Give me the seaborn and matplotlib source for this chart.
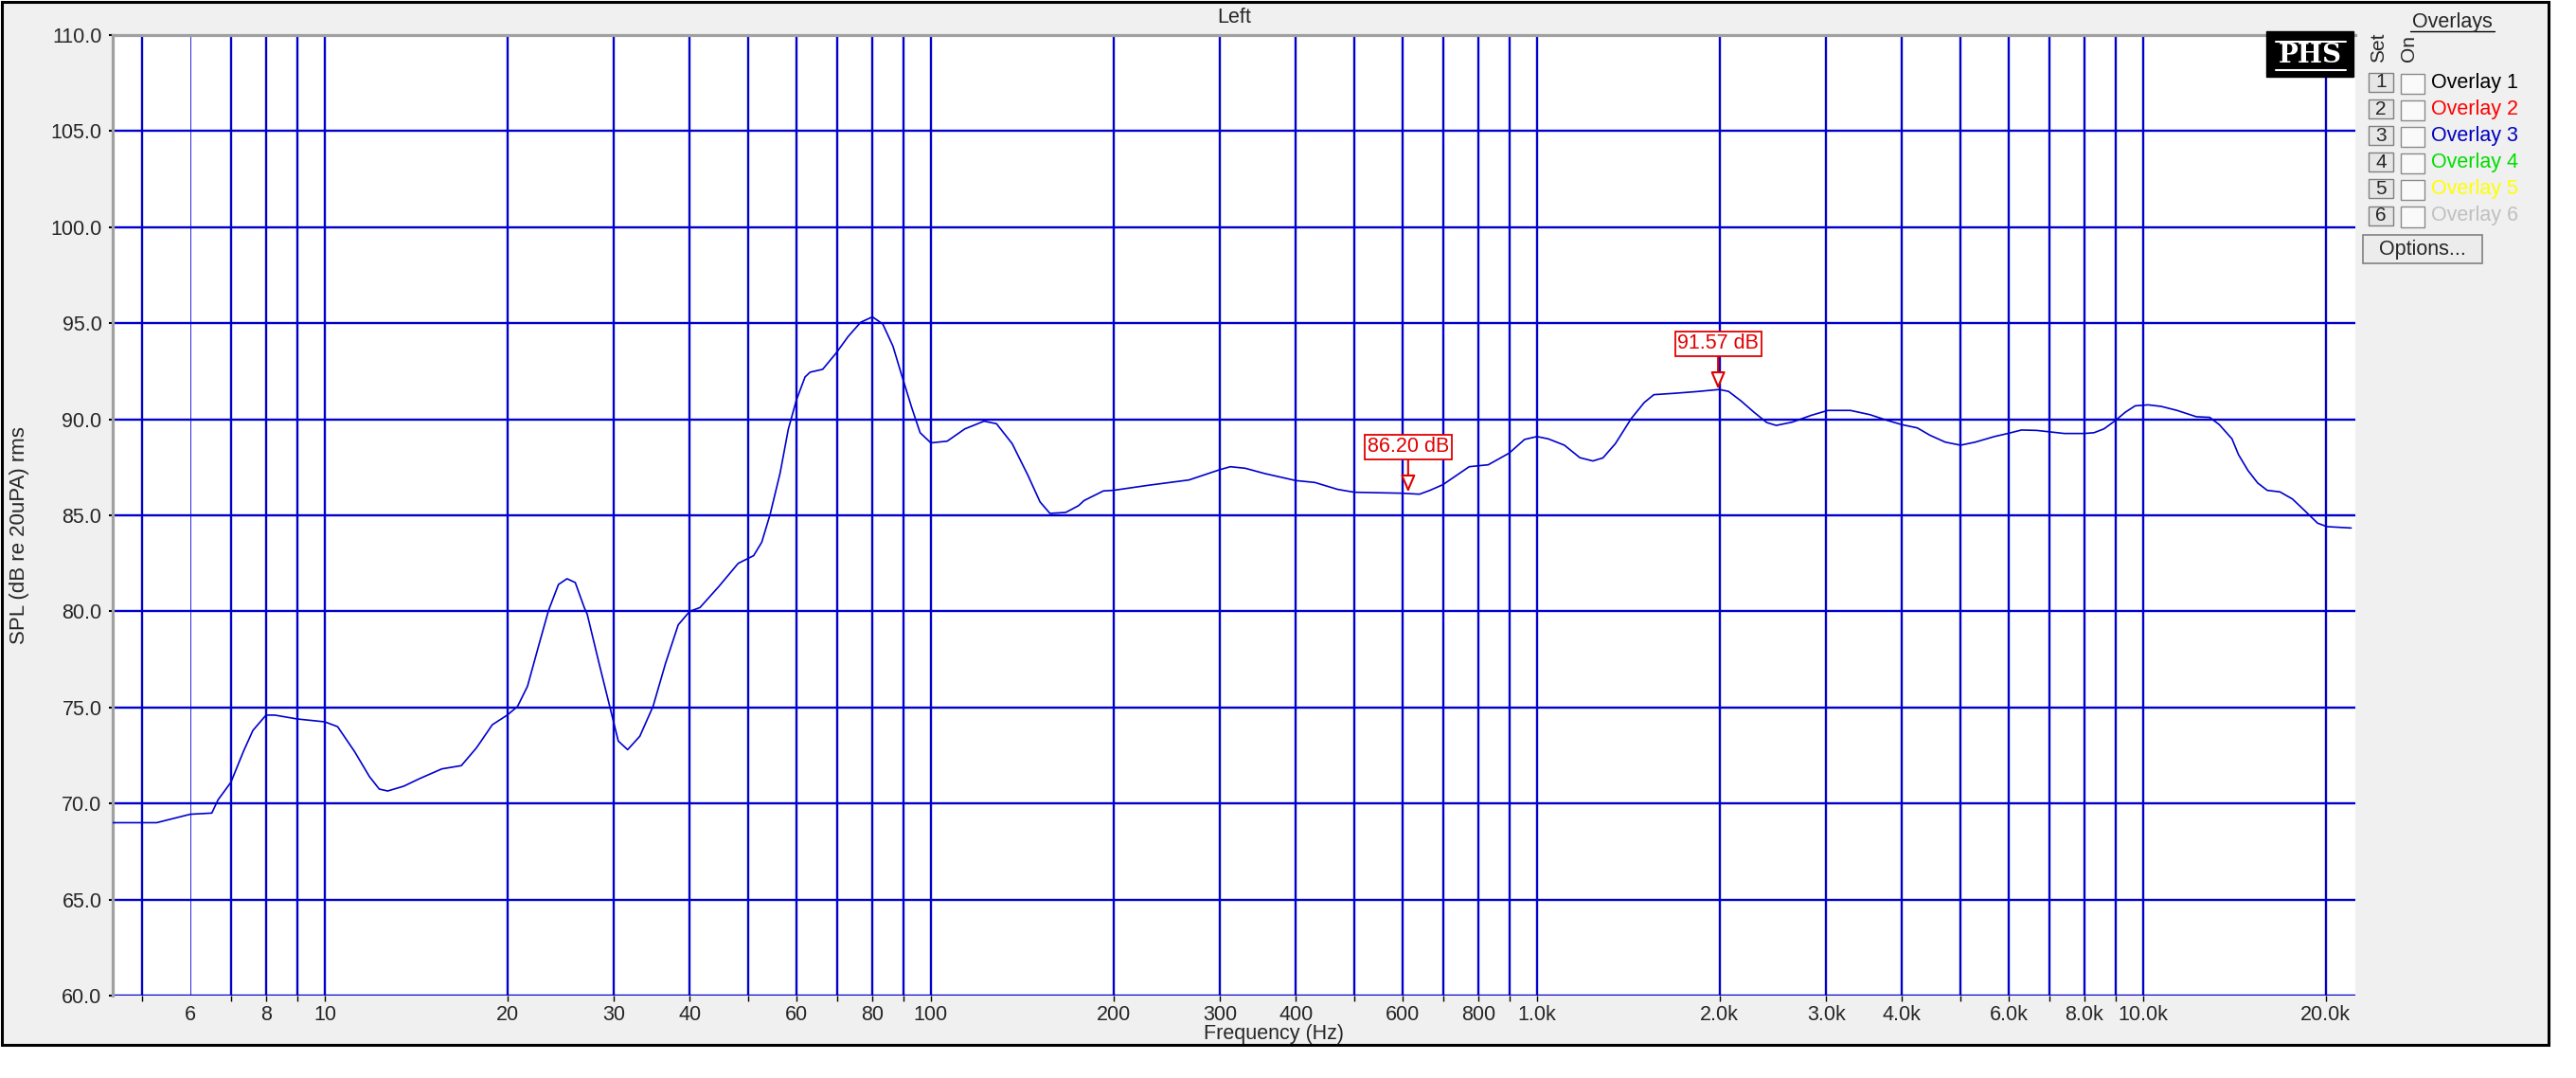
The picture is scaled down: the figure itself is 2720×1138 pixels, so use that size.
import numpy as np
import pandas as pd
import matplotlib
matplotlib.use("Agg")
import matplotlib.pyplot as plt
import seaborn as sns
from matplotlib.patches import Rectangle
from matplotlib.lines import Line2D
from matplotlib.ticker import FixedLocator, FixedFormatter, NullLocator

# --- dados ---
freq_hz = [4.46, 5.0, 5.28, 5.6, 6.0, 6.51, 6.67, 7.0, 7.34, 7.61, 8.0, 8.27, 9.0, 10.0,
           10.5, 11.2, 11.85, 12.3, 12.7, 13.5, 14.35, 15.6, 16.8, 17.8, 18.9, 20.0, 20.8,
           21.6, 22.6, 23.4, 24.3, 25.1, 25.9, 26.8, 27.1, 28.4, 29.5, 30.5, 31.6, 33.1,
           34.8, 36.5, 38.3, 40.0, 41.6, 44.7, 48.1, 51.0, 52.6, 54.3, 56.4, 58.2, 60.0,
           62.0, 63.2, 66.3, 69.8, 73.0, 76.6, 80.1, 83.3, 86.6, 89.5, 93.0, 96.0, 100,
           106.4, 113.8, 122.4, 128.3, 136.2, 144.5, 151.4, 157.2, 166.9, 175.2, 179, 192.6,
           200, 228, 266.6, 300, 312, 330, 356, 400, 430, 469, 500, 600, 640, 666, 700, 773,
           831, 900, 954, 1000, 1044, 1110, 1177, 1237, 1285, 1347, 1431, 1503, 1559, 1701,
           1833, 2000, 2071, 2172, 2280, 2394, 2482, 2637, 2838, 3021, 3290, 3543, 3767,
           4000, 4242, 4449, 4717, 5000, 5286, 5684, 6000, 6300, 6673, 7000, 7417, 8000,
           8300, 8620, 9000, 9350, 9705, 10200, 10710, 11380, 12250, 12880, 13360, 14020,
           14370, 14900, 15460, 16030, 16820, 17640, 18500, 19410, 20130, 22050]
spl_db = [69.0, 69.0, 69.0, 69.2, 69.44, 69.5, 70.2, 71.1, 72.7, 73.8, 74.6, 74.6, 74.4, 74.25,
          74.0, 72.7, 71.4, 70.75, 70.65, 70.9, 71.3, 71.8, 71.97, 72.9, 74.1, 74.6, 75.05,
          76.1, 78.35, 80.05, 81.4, 81.7, 81.5, 80.2, 79.86, 77.2, 75.1, 73.25, 72.8, 73.5,
          75.05, 77.3, 79.3, 80.0, 80.2, 81.3, 82.5, 82.9, 83.6, 85.05, 87.2, 89.5, 91.0,
          92.2, 92.45, 92.6, 93.45, 94.3, 95.05, 95.33, 94.96, 93.8, 92.3, 90.6, 89.3, 88.77,
          88.86, 89.5, 89.9, 89.77, 88.73, 87.1, 85.7, 85.1, 85.15, 85.5, 85.77, 86.27,
          86.3, 86.56, 86.84, 87.38, 87.53, 87.45, 87.17, 86.81, 86.71, 86.35, 86.2, 86.15, 86.1, 86.3, 86.6, 87.53,
          87.63, 88.24, 88.95, 89.1, 88.98, 88.65, 88.0, 87.83, 87.99, 88.73, 90.04, 90.87, 91.28, 91.36,
          91.44, 91.55, 91.45, 90.95, 90.37, 89.83, 89.68, 89.85, 90.21, 90.46, 90.46, 90.24, 89.96,
          89.72, 89.55, 89.17, 88.81, 88.65, 88.81, 89.1, 89.27, 89.44, 89.42, 89.35, 89.26, 89.26,
          89.3, 89.5, 89.93, 90.37, 90.7, 90.75, 90.67, 90.46, 90.13, 90.1, 89.72, 88.98,
          88.16, 87.33, 86.68, 86.3, 86.22, 85.85, 85.23, 84.59, 84.41, 84.34]

grid_freqs = [5, 6, 7, 8, 9, 10, 20, 30, 40, 50, 60, 70, 80, 90, 100, 200, 300, 400, 500,
              600, 700, 800, 900, 1000, 2000, 3000, 4000, 5000, 6000, 7000, 8000, 9000,
              10000, 20000]
freq_labels = ['', '6', '', '8', '', '10', '20', '30', '40', '', '60', '', '80', '', '100',
               '200', '300', '400', '', '600', '', '800', '', '1.0k', '2.0k', '3.0k', '4.0k',
               '', '6.0k', '', '8.0k', '', '10.0k', '20.0k']
spl_ticks = [60, 65, 70, 75, 80, 85, 90, 95, 100, 105, 110]

marker_freqs = [613, 1990]
marker_levels = [86.20, 91.57]

overlay_names = ['Overlay 1', 'Overlay 2', 'Overlay 3', 'Overlay 4', 'Overlay 5', 'Overlay 6']
overlay_colors = ['#000000', '#ff0000', '#0000c0', '#00dd00', '#ffff00', '#c0c0c0']

# --- estilo ---
sns.set_theme(style="white")
plt.rcParams['font.family'] = ['Liberation Sans', 'DejaVu Sans']

AZUL = '#0000cc'
VERMELHO = '#e00000'
W, H = 2720, 1138


def fx(x):
    return x / W


def fy(y):
    return 1 - y / H


def caixa(fig, x0, y0, x1, y1, **kw):
    r = Rectangle((fx(x0), fy(y1)), (x1 - x0) / W, (y1 - y0) / H,
                  transform=fig.transFigure, **kw)
    fig.patches.append(r)
    return r


def linha(fig, x0, y0, x1, y1, **kw):
    fig.lines.append(Line2D([fx(x0), fx(x1)], [fy(y0), fy(y1)],
                            transform=fig.transFigure, **kw))


fig = plt.figure(figsize=(27.2, 11.38), dpi=100, facecolor='white')

# moldura externa cinza
caixa(fig, 2, 2, 2691, 1103, facecolor='#f0f0f0', edgecolor='black', linewidth=2.2, zorder=-5)

ax = fig.add_axes([fx(118.5), fy(1051), (2487 - 118.5) / W, (1051 - 37) / H])
ax.set_facecolor('white')

df = pd.DataFrame({'freq': freq_hz, 'spl': spl_db})
sns.lineplot(data=df, x='freq', y='spl', ax=ax, color=AZUL, linewidth=1.2,
             errorbar=None, sort=False, zorder=3)

ax.set_xscale('log')
ax.set_xlim(4.46, 22400)
ax.set_ylim(60, 110)

ax.xaxis.set_major_locator(FixedLocator(grid_freqs))
ax.xaxis.set_major_formatter(FixedFormatter(freq_labels))
ax.xaxis.set_minor_locator(NullLocator())
ax.set_yticks(spl_ticks)
ax.set_yticklabels([f"{v:.1f}" for v in spl_ticks])

ax.grid(True, which='major', color=AZUL, linewidth=1.7)
ax.set_axisbelow(True)
ax.get_xgridlines()[1].set_linewidth(0.6)

ax.tick_params(axis='x', which='major', direction='out', length=4.5, width=1, color='black',
               pad=3, labelsize=15.5, bottom=True)
ax.tick_params(axis='y', which='major', direction='out', length=3, width=1.5, color='black',
               pad=5, labelsize=15.5, left=True)
ax.xaxis.get_major_ticks()[1].tick1line.set_visible(False)

for lado in ['right', 'bottom']:
    ax.spines[lado].set_visible(False)
for lado in ['left', 'top']:
    ax.spines[lado].set_color('#a0a0a0')
    ax.spines[lado].set_linewidth(2.3)
    ax.spines[lado].set_zorder(1)

ax.set_xlabel('')
ax.set_ylabel('')

# marcadores de nível
for f, nivel in zip(marker_freqs, marker_levels):
    ax.annotate(f"{nivel:.2f} dB", xy=(f, nivel), xytext=(0, 48), textcoords='offset pixels',
                ha='center', va='center', color=VERMELHO, fontsize=15.5, zorder=6,
                bbox=dict(boxstyle='square,pad=0.12', fc='white', ec=VERMELHO, lw=1.3),
                arrowprops=dict(arrowstyle='-|>,head_length=0.7,head_width=0.3',
                                fc='white', ec=VERMELHO, lw=1.5, shrinkA=0, shrinkB=0))

# textos dos eixos
fig.text(fx(1303), fy(18), 'Left', ha='center', va='center', fontsize=15.5)
fig.text(fx(1345), fy(1092), 'Frequency (Hz)', ha='center', va='center', fontsize=15.5)
fig.text(fx(21), fy(565), 'SPL (dB re 20uPA) rms', ha='center', va='center',
         rotation=90, fontsize=16)

# logotipo PHS
caixa(fig, 2393, 33, 2485, 81, facecolor='black', edgecolor='black', zorder=10)
linha(fig, 2403, 44, 2477, 44, color='white', linewidth=1.5, zorder=11)
linha(fig, 2403, 74, 2477, 74, color='white', linewidth=1.5, zorder=11)
fig.text(fx(2439), fy(59), 'PHS', ha='center', va='center', color='white', fontsize=20,
         fontweight='bold', family='DejaVu Serif', zorder=12)

# painel de overlays
fig.text(fx(2589), fy(23), 'Overlays', ha='center', va='center', fontsize=15.5)
linha(fig, 2545, 33, 2634, 33, color='black', linewidth=1)
fig.text(fx(2512), fy(50), 'Set', ha='center', va='center', rotation=90, fontsize=15)
fig.text(fx(2543), fy(51), 'On', ha='center', va='center', rotation=90, fontsize=15)

for i, (nome, cor) in enumerate(zip(overlay_names, overlay_colors)):
    y0 = 77 + i * 28.1
    caixa(fig, 2501, y0, 2527, y0 + 20, facecolor='#e6e6e6', edgecolor='#808080', linewidth=1)
    fig.text(fx(2514), fy(y0 + 10), str(i + 1), ha='center', va='center', fontsize=15)
    caixa(fig, 2535, y0 + 1, 2560, y0 + 22, facecolor='#fafafa', edgecolor='#8a8a8a', linewidth=1)
    fig.text(fx(2567), fy(y0 + 10), nome, ha='left', va='center', fontsize=15.5, color=cor)

caixa(fig, 2495, 248, 2621, 278, facecolor='#ececec', edgecolor='#808080', linewidth=1.2)
fig.text(fx(2558), fy(263), 'Options...', ha='center', va='center', fontsize=15.5)

fig.savefig('out.png', dpi=100, facecolor='white')
